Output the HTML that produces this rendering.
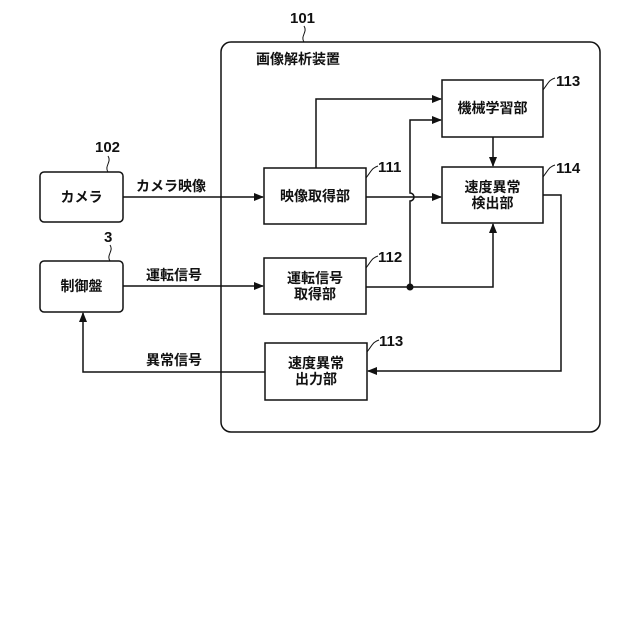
<!DOCTYPE html>
<html><head><meta charset="utf-8"><style>
html,body{margin:0;padding:0;background:#fff;}
svg{display:block;}
text{font-family:"Liberation Sans","Noto Sans CJK JP",sans-serif;fill:#111;}
.j{font-size:14px;font-weight:bold;}
.n{font-size:15px;font-weight:bold;}
</style></head><body>
<svg width="640" height="640" viewBox="0 0 640 640" xmlns="http://www.w3.org/2000/svg">
<defs><marker id="a" markerWidth="10" markerHeight="8" refX="9" refY="4" orient="auto" markerUnits="userSpaceOnUse"><path d="M0,0 L10,4 L0,8 z" fill="#111"/></marker></defs>
<g fill="none" stroke="#111" stroke-width="1.5">
<rect x="221" y="42" width="379" height="390" rx="10"/>
<rect x="40" y="172" width="83" height="50" rx="4"/>
<rect x="40" y="261" width="83" height="51" rx="4"/>
<rect x="264" y="168" width="102" height="56"/>
<rect x="264" y="258" width="102" height="56"/>
<rect x="265" y="343" width="102" height="57"/>
<rect x="442" y="80" width="101" height="57"/>
<rect x="442" y="167" width="101" height="56"/>
<path d="M123,197 H263" marker-end="url(#a)"/>
<path d="M123,286 H263" marker-end="url(#a)"/>
<path d="M265,372 H83 V313" marker-end="url(#a)"/>
<path d="M316,168 V99 H441" marker-end="url(#a)"/>
<path d="M410,287 V201 A4,4 0 0 0 410,193 V120 H441" marker-end="url(#a)"/>
<path d="M366,197 H441" marker-end="url(#a)"/>
<path d="M366,287 H493 V224" marker-end="url(#a)"/>
<path d="M493,137 V166" marker-end="url(#a)"/>
<path d="M543,195 H561 V371 H368" marker-end="url(#a)"/>
<path d="M304,42 C300,36 308,32 304,26" stroke-width="1"/>
<path d="M108,172 C104,166 112,162 108,156" stroke-width="1"/>
<path d="M110,261 C106,255 114,251 110,245" stroke-width="1"/>
<path d="M366,178 C372,170 372,168 378,166" stroke-width="1"/>
<path d="M366,268 C372,260 372,258 378,256" stroke-width="1"/>
<path d="M367,352 C373,344 373,342 379,340" stroke-width="1"/>
<path d="M543,90 C549,82 549,80 555,78" stroke-width="1"/>
<path d="M543,177 C549,169 549,167 555,165" stroke-width="1"/>
</g>
<circle cx="410" cy="287" r="3.5" fill="#111"/>
<text class="n" x="290" y="23">101</text>
<text class="n" x="95" y="152">102</text>
<text class="n" x="104" y="242">3</text>
<text class="n" x="378" y="172">111</text>
<text class="n" x="378" y="262">112</text>
<text class="n" x="379" y="346">113</text>
<text class="n" x="556" y="86">113</text>
<text class="n" x="556" y="173">114</text>
<text class="j" x="256" y="64">画像解析装置</text>
<text class="j" x="81.5" y="202" text-anchor="middle">カメラ</text>
<text class="j" x="81.5" y="291" text-anchor="middle">制御盤</text>
<text class="j" x="171" y="191" text-anchor="middle">カメラ映像</text>
<text class="j" x="174" y="280" text-anchor="middle">運転信号</text>
<text class="j" x="174" y="365" text-anchor="middle">異常信号</text>
<text class="j" x="315" y="201" text-anchor="middle">映像取得部</text>
<text class="j" x="315" y="283" text-anchor="middle">運転信号</text>
<text class="j" x="315" y="299" text-anchor="middle">取得部</text>
<text class="j" x="316" y="368" text-anchor="middle">速度異常</text>
<text class="j" x="316" y="384" text-anchor="middle">出力部</text>
<text class="j" x="492.5" y="113" text-anchor="middle">機械学習部</text>
<text class="j" x="492.5" y="192" text-anchor="middle">速度異常</text>
<text class="j" x="492.5" y="208" text-anchor="middle">検出部</text>
</svg>
</body></html>
